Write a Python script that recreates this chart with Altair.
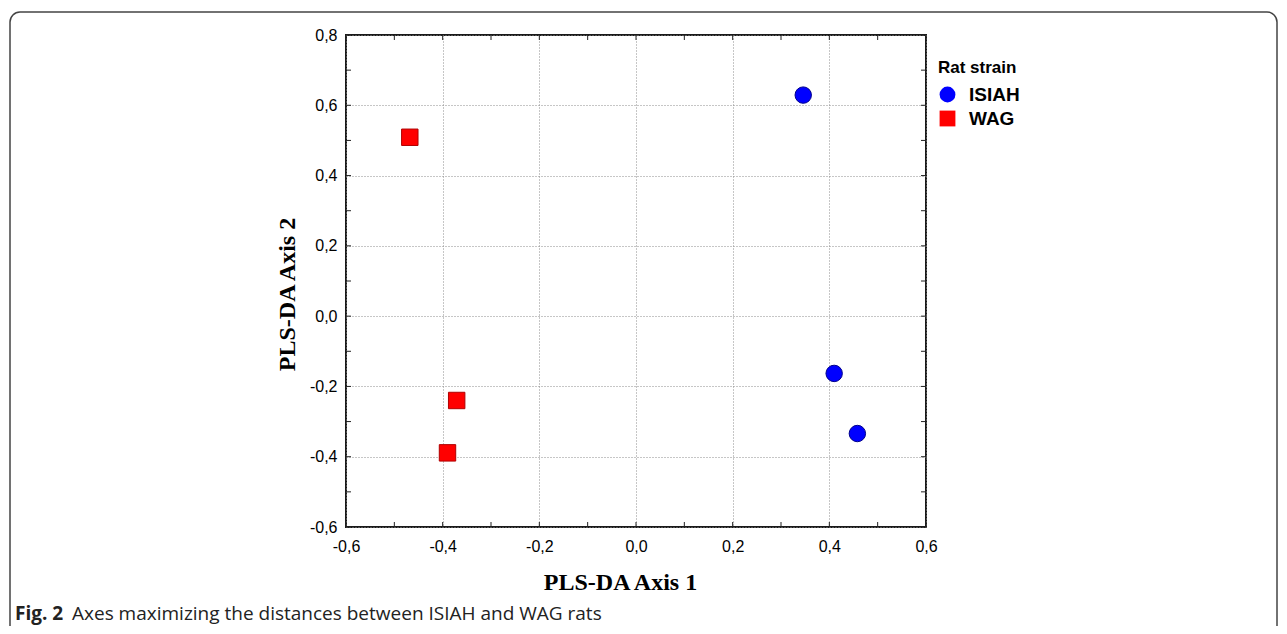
import altair as alt
import pandas as pd

# ---- data ----
STRAINS = ["ISIAH", "ISIAH", "ISIAH", "WAG", "WAG", "WAG"]
AXIS1 = [0.346, 0.410, 0.458, -0.468, -0.371, -0.390]
AXIS2 = [0.629, -0.163, -0.334, 0.509, -0.240, -0.389]

X_LABELS = [-0.6, -0.4, -0.2, 0.0, 0.2, 0.4, 0.6]
Y_LABELS = [-0.6, -0.4, -0.2, 0.0, 0.2, 0.4, 0.6, 0.8]
X_MINOR = [-0.6, -0.5, -0.4, -0.3, -0.2, -0.1, 0.0, 0.1, 0.2, 0.3, 0.4, 0.5, 0.6]
Y_MINOR = [-0.6, -0.5, -0.4, -0.3, -0.2, -0.1, 0.0, 0.1, 0.2, 0.3, 0.4, 0.5, 0.6, 0.7, 0.8]

CAPTION_BOLD = "Fig. 2"
CAPTION_REST = "Axes maximizing the distances between ISIAH and WAG rats"

W, H = 580, 492
PAD_L, PAD_T = 338, 27

df = pd.DataFrame({"strain": STRAINS, "a1": AXIS1, "a2": AXIS2})
tx = pd.DataFrame({"a1": X_MINOR})
ty = pd.DataFrame({"a2": Y_MINOR})
cap_b = pd.DataFrame({"c": [CAPTION_BOLD]})
cap_r = pd.DataFrame({"c": [CAPTION_REST]})

label_expr = "replace(replace(format(datum.value, '.1f'), '.', ','), '\u2212', '-')"

xscale = alt.Scale(domain=[-0.6, 0.6], nice=False, zero=False)
yscale = alt.Scale(domain=[-0.6, 0.8], nice=False, zero=False)

legend = alt.Legend(
    orient="none", legendX=592, legendY=25, title="Rat strain",
    titleFont="Liberation Sans", titleFontSize=17, titleFontWeight="bold", titleColor="black",
    titlePadding=8,
    labelFont="Liberation Sans", labelFontSize=19, labelFontWeight="bold", labelColor="black",
    symbolSize=250, labelOffset=12, rowPadding=4, symbolStrokeWidth=0,
)

grid_style = dict(grid=True, gridDash=[1, 2], gridColor="#8c8c8c", gridWidth=1)

xaxis = alt.Axis(
    values=X_LABELS, **grid_style,
    ticks=False, tickSize=0, domain=False, labelExpr=label_expr,
    labelFont="Liberation Sans", labelFontSize=16, labelColor="black", labelPadding=11,
    labelFlush=False,
    title="PLS-DA Axis 1", titleFont="Liberation Serif", titleFontSize=24,
    titleFontWeight="bold", titleColor="black", titleX=274, titleY=55,
    titleBaseline="middle", titleAlign="center")
yaxis = alt.Axis(
    values=Y_LABELS, **grid_style,
    ticks=False, tickSize=0, domain=False, labelExpr=label_expr,
    labelFont="Liberation Sans", labelFontSize=16, labelColor="black", labelPadding=9,
    labelFlush=False,
    title="PLS-DA Axis 2", titleFont="Liberation Serif", titleFontSize=24,
    titleFontWeight="bold", titleColor="black", titleX=-59, titleY=259,
    titleAngle=270, titleBaseline="middle", titleAlign="center")

points = alt.Chart(df).mark_point(filled=True, size=270, opacity=1, strokeWidth=1).encode(
    x=alt.X("a1:Q", scale=xscale, axis=xaxis),
    y=alt.Y("a2:Q", scale=yscale, axis=yaxis),
    color=alt.Color("strain:N", scale=alt.Scale(domain=["ISIAH", "WAG"], range=["#0000ff", "#ff0000"]), legend=legend),
    shape=alt.Shape("strain:N", scale=alt.Scale(domain=["ISIAH", "WAG"], range=["circle", "square"]), legend=legend),
    stroke=alt.Stroke("strain:N", scale=alt.Scale(domain=["ISIAH", "WAG"], range=["#00008a", "#b00000"]), legend=None),
)

tick_style = dict(color="#222222", strokeWidth=1)
t_bottom = alt.Chart(tx).mark_rule(**tick_style).encode(
    x=alt.X("a1:Q", scale=xscale, axis=xaxis), y=alt.value(H), y2=alt.value(H - 5))
t_top = alt.Chart(tx).mark_rule(**tick_style).encode(
    x=alt.X("a1:Q", scale=xscale, axis=xaxis), y=alt.value(0), y2=alt.value(5))
t_left = alt.Chart(ty).mark_rule(**tick_style).encode(
    y=alt.Y("a2:Q", scale=yscale, axis=yaxis), x=alt.value(0), x2=alt.value(5))
t_right = alt.Chart(ty).mark_rule(**tick_style).encode(
    y=alt.Y("a2:Q", scale=yscale, axis=yaxis), x=alt.value(W), x2=alt.value(W - 5))

frame = alt.Chart(cap_b).mark_rect(fillOpacity=0, stroke="#444444", strokeWidth=1.5, cornerRadius=10).encode(
    x=alt.value(10 - 8 - PAD_L), y=alt.value(12 - 8 - PAD_T),
    x2=alt.value(1277 - 8 - PAD_L), y2=alt.value(700))

cap1 = alt.Chart(cap_b).mark_text(align="left", baseline="alphabetic", font="Open Sans",
                                  fontSize=19, fontWeight="bold", color="#222222").encode(
    text="c:N", x=alt.value(15 - 8 - PAD_L), y=alt.value(620 - 8 - PAD_T))
cap2 = alt.Chart(cap_r).mark_text(align="left", baseline="alphabetic", font="Open Sans",
                                  fontSize=19, color="#222222").encode(
    text="c:N", x=alt.value(72 - 8 - PAD_L), y=alt.value(620 - 8 - PAD_T))

chart = alt.layer(frame, points, t_bottom, t_top, t_left, t_right, cap1, cap2).properties(
    width=W, height=H,
    background="white",
    autosize=alt.AutoSizeParams(type="none"),
    padding={"left": PAD_L, "top": PAD_T, "right": 1271 - PAD_L - W, "bottom": 618 - PAD_T - H},
).configure_view(stroke="#1a1a1a", strokeWidth=2)

chart.save("out.html", embed_options={"renderer": "svg", "actions": False})
